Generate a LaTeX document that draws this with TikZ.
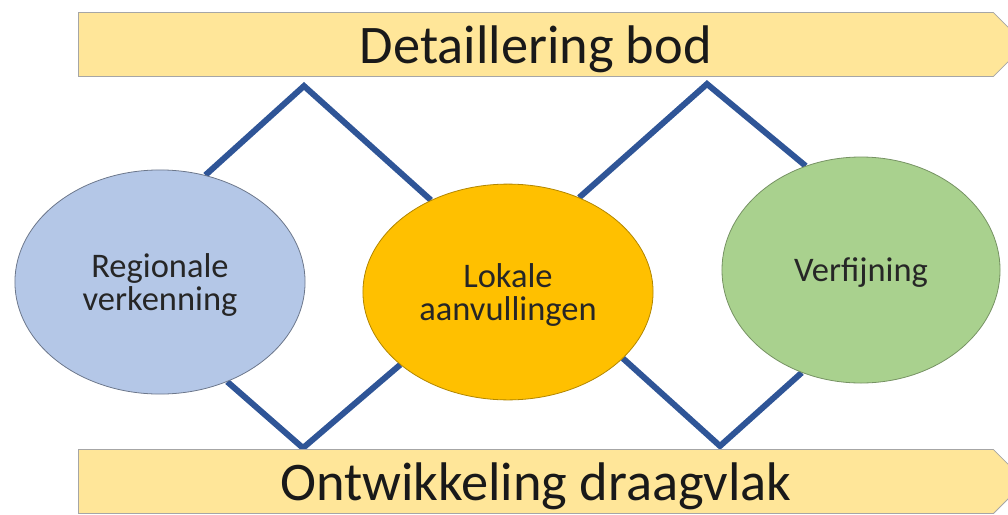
\documentclass[tikz,border=0pt]{standalone}
\usepackage{fontspec}
\setmainfont{Carlito}
\usepackage{tikz}
\usetikzlibrary{shapes.symbols,shapes.geometric,backgrounds}

\definecolor{bannergeel}{HTML}{FFE699}
\definecolor{lijnblauw}{HTML}{2F5597}
\definecolor{lichtblauw}{HTML}{B4C7E7}
\definecolor{oranje}{HTML}{FFC000}
\definecolor{lichtgroen}{HTML}{A9D18E}

\tikzset{
  banner/.style={signal, signal to=east, signal pointer angle=90, fill=bannergeel,
    draw=black!35, line width=0.6pt, minimum width=25.1cm, minimum height=1.7cm,
    inner sep=0pt, anchor=west, text depth=0pt, text=black!90,
    font=\fontsize{41}{43}\selectfont},
  fase/.style={ellipse, line width=0.6pt, inner sep=0pt, align=center, text depth=0pt,
    text=black!85, font=\fontsize{26}{25.6}\selectfont},
  zigzag/.style={lijnblauw, line width=4.5pt, line join=miter}
}

\begin{document}
\begin{tikzpicture}[x=0.0265cm, y=-0.0265cm]
        \useasboundingbox (0,0) rectangle (1008,514);

        \node[fase, fill=lichtblauw, draw=lichtblauw!60!black, minimum width=7.69cm, minimum height=5.94cm] (regio) at (160,282) {Regionale\\verkenning};
        \node[fase, fill=oranje, draw=oranje!70!black, minimum width=7.69cm, minimum height=5.72cm] (lokaal) at (508,292) {Lokale\\aanvullingen};
        \node[fase, fill=lichtgroen, draw=lichtgroen!70!black, minimum width=7.37cm, minimum height=5.99cm] (verfijn) at (861,270) {Verfijning};

        \coordinate (boven1) at (304,86);
        \coordinate (boven2) at (707,84);
        \coordinate (onder1) at (303,448);
        \coordinate (onder2) at (720,446);

        \begin{scope}[on background layer]
        \draw[zigzag] (regio.67) -- (boven1) -- (lokaal.130);
        \draw[zigzag] (lokaal.53) -- (boven2) -- (verfijn.118);
        \draw[zigzag] (regio.-56) -- (onder1) -- (lokaal.-146);
        \draw[zigzag] (lokaal.-30) -- (onder2) -- (verfijn.-120);
        \end{scope}

        \node[banner] (draagvlak) at (78,481.5) {Ontwikkeling draagvlak};
        \node[banner] (bod) at (78,44.5) {Detaillering bod};

    \end{tikzpicture}
\end{document}
